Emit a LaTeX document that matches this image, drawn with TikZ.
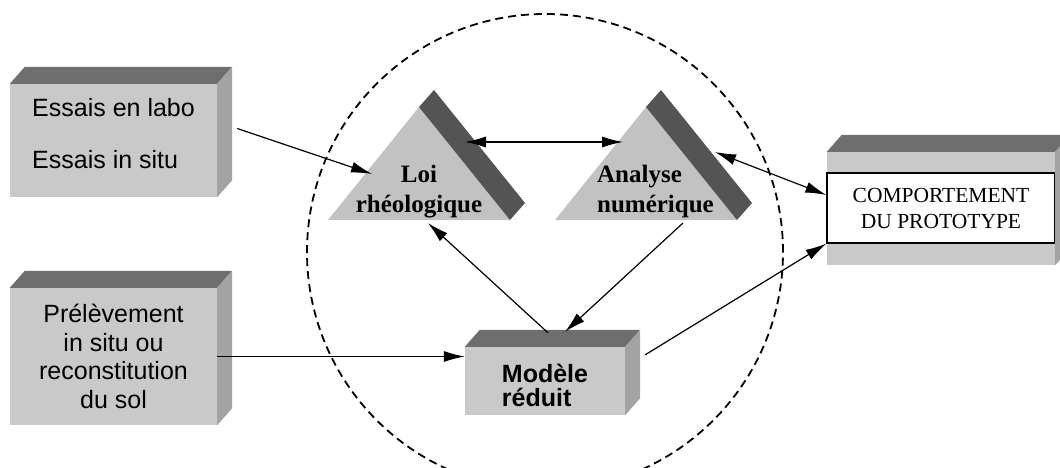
\documentclass[tikz,border=0pt]{standalone}
\usepackage{fontspec}
\setmainfont{Liberation Serif}
\newfontfamily\arial{Liberation Sans}
\usepackage{xcolor}
\usetikzlibrary{arrows.meta}

\definecolor{faceclaire}{gray}{0.79}
\definecolor{facedessus}{gray}{0.43}
\definecolor{facecote}{gray}{0.64}
\definecolor{triclair}{gray}{0.76}
\definecolor{trisombre}{gray}{0.33}

\tikzset{
  bloc/.style={rectangle, fill=faceclaire, inner sep=0pt},
  dessus/.style={fill=facedessus},
  cote/.style={fill=facecote},
  sans/.style={font=\arial\fontsize{25pt}{28.5pt}\selectfont},
  gras/.style={font=\bfseries\fontsize{25pt}{30pt}\selectfont},
  fleche/.style={-{Latex[length=21pt,width=11pt]}, line width=1.2pt},
  flechedouble/.style={{Latex[length=21pt,width=11pt]}-{Latex[length=21pt,width=11pt]}, line width=1.2pt},
  pointille/.style={line width=1.8pt, dash pattern=on 8pt off 5pt}
}

\begin{document}
\begin{tikzpicture}[x=1pt,y=-1pt]
  \clip (0,0) rectangle (1060,468);

  % cercle en pointilles
  \draw[pointille] (545,252) circle[radius=238pt];

  % blocs en relief
  \node[bloc, sans, minimum width=207pt, minimum height=113pt, align=left]
    (essais) at (113.5,140.5) {Essais en labo\\[23.5pt]Essais in situ\rule[-14pt]{0pt}{14pt}};
  \node[bloc, sans, minimum width=207pt, minimum height=137pt, align=center]
    (prele) at (113.5,356.5) {Prélèvement\\in situ ou\\reconstitution\\du sol};
  \node[bloc, sans, font=\bfseries\arial\fontsize{25pt}{25pt}\selectfont, minimum width=160pt, minimum height=68pt, align=left]
    (modele) at (545,381) {\rule{0pt}{27pt}Modèle\\[-1pt]réduit};
  \node[bloc, minimum width=228pt, minimum height=113pt] (cadre) at (941,208.5) {};
  \node[draw, line width=1.2pt, fill=white, minimum width=228pt, minimum height=70pt, inner sep=0pt, align=center,
        font=\fontsize{21.5pt}{26pt}\selectfont]
    (proto) at (941,208) {COMPORTEMENT\\DU PROTOTYPE};

  \foreach \n in {essais,prele,modele,cadre} {
    \fill[dessus] (\n.north west) -- ++(15,-17) -- ([shift={(15,-17)}]\n.north east) -- (\n.north east) -- cycle;
    \fill[cote] (\n.north east) -- ++(15,-17) -- ([shift={(15,-17)}]\n.south east) -- (\n.south east) -- cycle;
  }

  % triangles
  \foreach \t/\dx in {loi/0,ana/227} {
    \coordinate (\t-s) at (419+\dx,107);
    \coordinate (\t-g) at (328+\dx,220);
    \coordinate (\t-d) at (510+\dx,220);
    \fill[triclair] (\t-g) -- (\t-s) -- (\t-d) -- cycle;
    \fill[trisombre] (\t-s) -- ++(15,-17) -- ([shift={(15,-17)}]\t-d) -- (\t-d) -- cycle;
  }
  \node[gras, align=center] (loi) at (419,192) {Loi\\rhéologique};
  \node[gras, align=left, inner sep=0pt] (ana) at (655.5,191) {Analyse\\numérique};

  % points d'attache
  \coordinate (loiG) at (372,174);
  \coordinate (loiD) at (465,142);
  \coordinate (loiB) at (428,223);
  \coordinate (anaG) at (623,142);
  \coordinate (anaD) at (715,152);
  \coordinate (anaB) at (683,223);

  % liaisons
  \draw[fleche] ([shift={(20,-12)}]essais.east) -- (loiG);
  \draw[flechedouble] (loiD) -- (anaG);
  \draw[fleche] ([shift={(3,-14)}]modele.north) -- (loiB);
  \draw[fleche] (anaB) -- ([shift={(20,-15)}]modele.north);
  \draw[fleche] (prele.east) -- (prele.east -| modele.west);
  \draw[fleche] ([shift={(20,8)}]modele.north east) -- (proto.south west);
  \draw[flechedouble] (anaD) -- ([yshift=13pt]proto.west);
\end{tikzpicture}
\end{document}
